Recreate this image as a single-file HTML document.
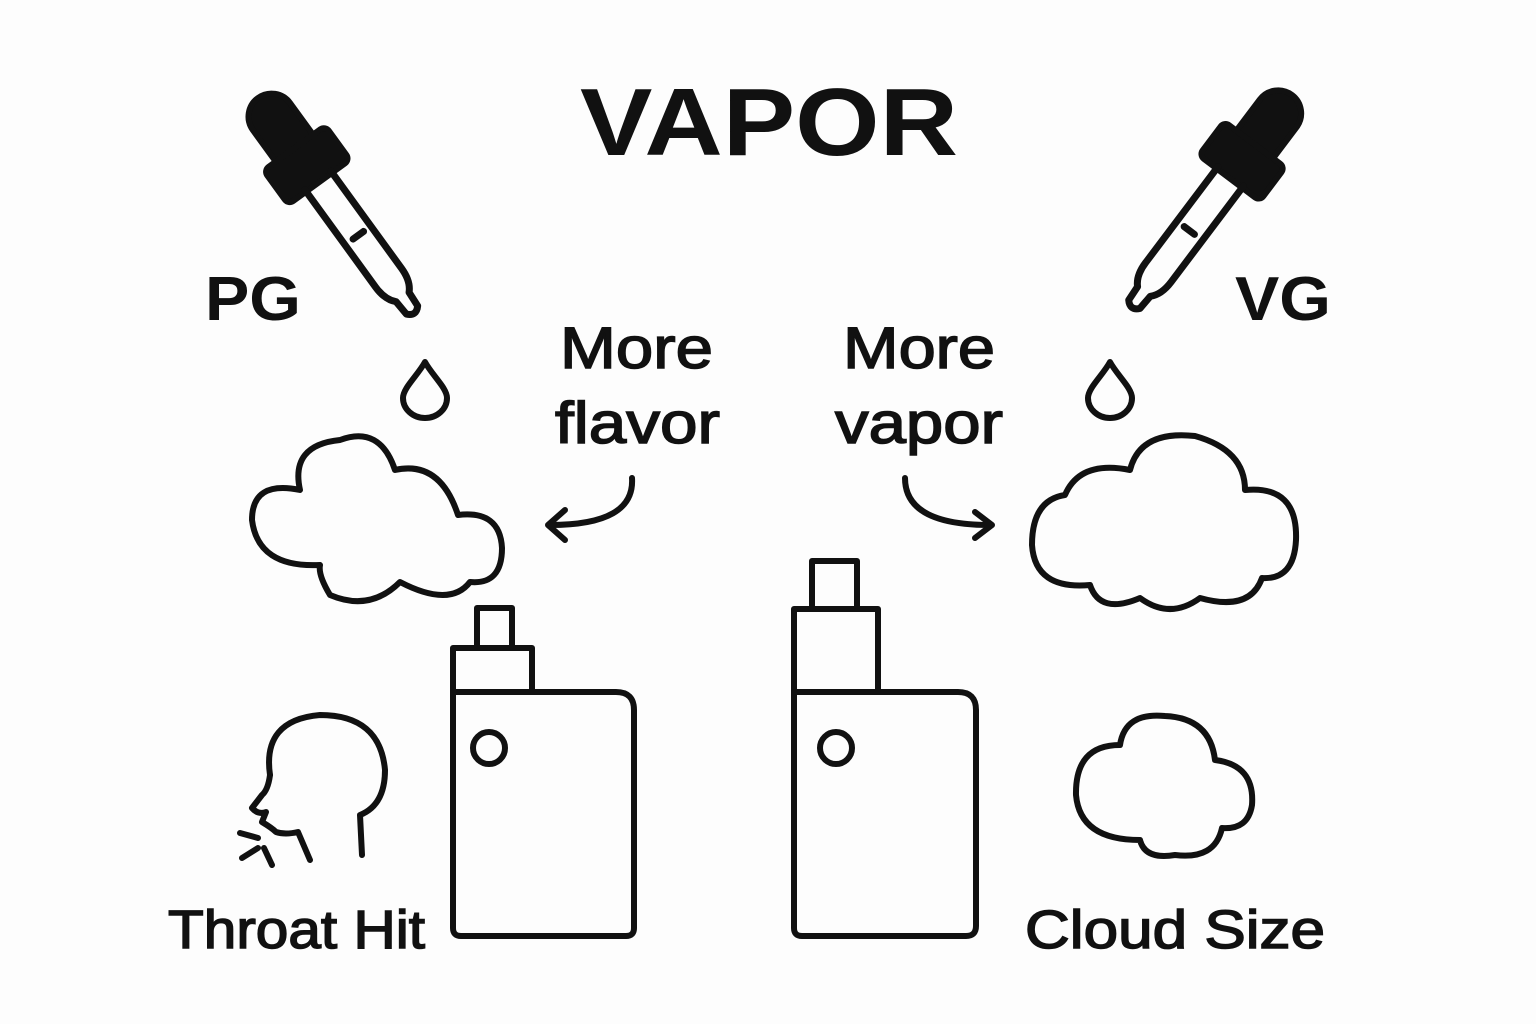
<!DOCTYPE html>
<html><head><style>
html,body{margin:0;padding:0;background:#fff;}
svg{display:block}
text{font-family:"Liberation Sans",sans-serif;fill:#111}
.m{stroke:#111;stroke-width:1.5}
</style></head><body>
<svg width="1536" height="1024" viewBox="0 0 1536 1024" xmlns="http://www.w3.org/2000/svg">
<rect width="1536" height="1024" fill="#fdfdfd"/>
<g fill="none" stroke="#111" stroke-width="6" stroke-linecap="round" stroke-linejoin="round">
<!-- left dropper -->
<g transform="translate(258,98) rotate(-36)">
  <path d="M-23 78 V23 A23 23 0 0 1 23 23 V78 Z" fill="#111"/>
  <rect x="-38" y="62" width="76" height="42" rx="6" fill="#111"/>
  <path d="M-16 102 V222 Q-16 238 -8 246 L-7 262 Q0 270 7 262 L8 246 Q16 238 16 222 V102" stroke-width="7"/>
  <line x1="-6" y1="170" x2="7" y2="170" stroke-width="7"/>
</g>
<path d="M425 362 C418 375 403 388 403 398 A22 20 0 0 0 447 398 C447 388 432 375 425 362 Z"/>
<!-- right dropper -->
<g transform="translate(1292,95) rotate(37)">
  <path d="M-23 78 V23 A23 23 0 0 1 23 23 V78 Z" fill="#111"/>
  <rect x="-38" y="62" width="76" height="42" rx="6" fill="#111"/>
  <path d="M-16 102 V222 Q-16 238 -8 246 L-7 262 Q0 270 7 262 L8 246 Q16 238 16 222 V102" stroke-width="7"/>
  <line x1="-7" y1="170" x2="6" y2="170" stroke-width="7"/>
</g>
<path d="M1110 362 C1103 375 1088 388 1088 398 A22 20 0 0 0 1132 398 C1132 388 1117 375 1110 362 Z"/>
<!-- left cloud -->
<path d="M300 490 Q290 445 340 440 Q380 425 395 470 Q440 460 458 515 Q500 510 502 548 Q502 585 470 582 Q450 608 400 582 Q370 612 330 595 Q318 575 320 565 Q258 568 252 520 Q252 480 300 490 Z"/>
<!-- right cloud -->
<path d="M1065 495 Q1080 460 1130 470 Q1140 430 1195 436 Q1245 450 1245 490 Q1298 485 1296 540 Q1294 580 1262 578 Q1250 612 1200 598 Q1170 620 1140 598 Q1100 615 1090 585 Q1035 590 1032 545 Q1032 500 1065 495 Z"/>
<!-- small cloud -->
<path d="M1120 745 Q1125 712 1165 716 Q1210 718 1215 760 Q1255 765 1252 805 Q1248 830 1222 828 Q1215 860 1175 855 Q1145 860 1140 840 Q1080 840 1076 795 Q1075 745 1120 745 Z"/>
<!-- arrows -->
<path d="M632 478 Q635 525 550 525"/>
<path d="M565 510 L548 525 L565 540"/>
<path d="M905 478 Q905 525 990 525"/>
<path d="M975 512 L992 525 L975 538"/>
<!-- left device -->
<rect x="477" y="608" width="35" height="40"/>
<rect x="453" y="648" width="79" height="44"/>
<path d="M453 692 V928 Q453 936 461 936 H626 Q634 936 634 928 V710 Q634 692 616 692 Z"/>
<circle cx="489" cy="748" r="16"/>
<!-- right device -->
<rect x="812" y="561" width="45" height="48"/>
<rect x="794" y="609" width="84" height="83"/>
<path d="M794 692 V928 Q794 936 802 936 H966 Q976 936 976 926 V710 Q976 692 958 692 Z"/>
<circle cx="836" cy="748" r="16"/>
<!-- head -->
<path d="M270 775 Q262 720 320 715 Q380 715 385 770 Q385 805 360 815 L362 855"/>
<path d="M270 775 Q268 790 262 795 L252 808 Q258 815 266 812 L262 822 Q272 828 276 832 Q285 835 298 832 L310 860"/>
<path d="M240 833 L258 838 M242 858 L258 848 M264 848 L272 865"/>
</g>
<text x="580" y="155" font-size="96" font-weight="bold" textLength="378" lengthAdjust="spacingAndGlyphs">VAPOR</text>
<text x="205" y="320" font-size="62" font-weight="bold" textLength="96" lengthAdjust="spacingAndGlyphs">PG</text>
<text x="1235" y="320" font-size="62" font-weight="bold" textLength="96" lengthAdjust="spacingAndGlyphs">VG</text>
<text class="m" x="560" y="368" font-size="58" textLength="153" lengthAdjust="spacingAndGlyphs">More</text>
<text class="m" x="555" y="443" font-size="58" textLength="165" lengthAdjust="spacingAndGlyphs">flavor</text>
<text class="m" x="843" y="368" font-size="58" textLength="152" lengthAdjust="spacingAndGlyphs">More</text>
<text class="m" x="835" y="443" font-size="58" textLength="168" lengthAdjust="spacingAndGlyphs">vapor</text>
<text class="m" x="168" y="948" font-size="54" textLength="257" lengthAdjust="spacingAndGlyphs">Throat Hit</text>
<text class="m" x="1025" y="948" font-size="54" textLength="300" lengthAdjust="spacingAndGlyphs">Cloud Size</text>
</svg>
</body></html>
